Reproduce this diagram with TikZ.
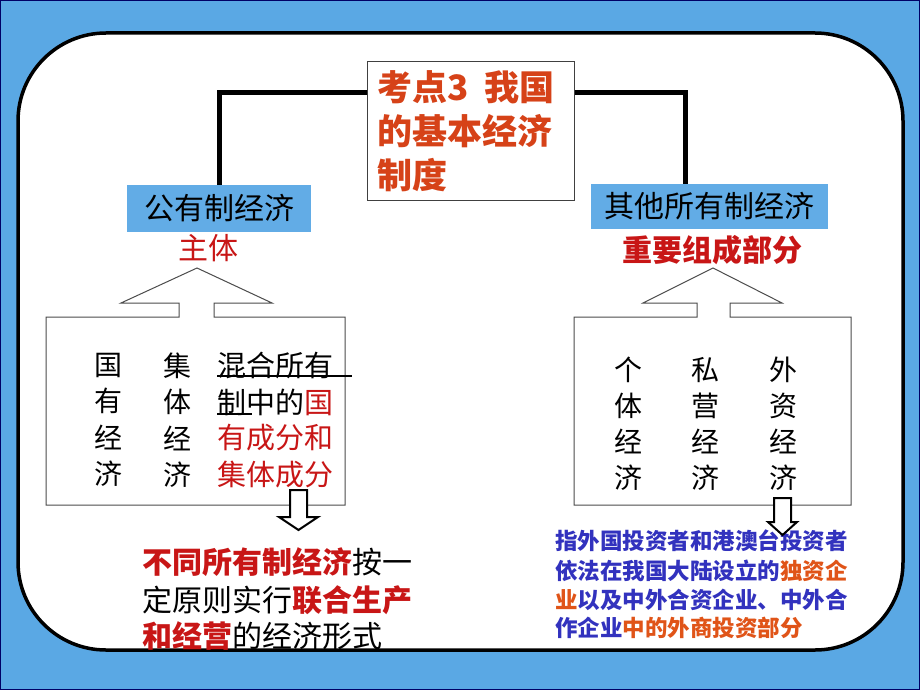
\documentclass[tikz,border=0pt]{standalone}
\usepackage{fontspec}
\setmainfont{Noto Sans CJK SC}
\usepackage{xcolor}
\usetikzlibrary{positioning}
\definecolor{bgblue}{RGB}{90,168,228}
\definecolor{boxblue}{RGB}{98,172,230}
\definecolor{titlered}{RGB}{214,66,24}
\definecolor{mainred}{RGB}{200,22,22}
\definecolor{txtblue}{RGB}{50,50,190}
\definecolor{txtorange}{RGB}{224,84,24}
\tikzset{
  panel/.style={draw=black, line width=3.5pt, fill=white, rounded corners=88pt},
  conn/.style={draw=black, line width=5pt},
  headbox/.style={draw=black!75, fill=white, line width=1pt, minimum width=207pt, minimum height=139pt, text width=187pt, inner xsep=10pt, align=left, text=titlered, font=\bfseries\fontsize{35}{44}\selectfont},
  sortbox/.style={fill=boxblue, text=black, inner sep=0pt, font=\fontsize{30}{30}\selectfont},
  role/.style={text=mainred, inner sep=0pt, font=\fontsize{30}{30}\selectfont},
  frame/.style={draw=black!70, line width=1pt, fill=white},
  hollow/.style={draw=black, line width=2pt, fill=white},
  col/.style={align=center, inner sep=0pt, font=\fontsize{28}{36.5}\selectfont},
  line/.style={anchor=west, inner sep=0pt, font=\fontsize{29}{29}\selectfont},
  note/.style={anchor=west, inner sep=0pt, font=\fontsize{30}{30}\selectfont},
  fnote/.style={anchor=west, inner sep=0pt, text=txtblue, font=\bfseries\fontsize{22.5}{22.5}\selectfont},
  uline/.style={draw=black, line width=1.5pt}
}
\begin{document}
\begin{tikzpicture}[x=1pt, y=-1pt]
  \fill[bgblue] (0,0) rectangle (920,690);
  \draw[blue!40!black] (0.5,0.5) rectangle (919.5,689.5);
  \draw[panel] (18,33) rectangle (903,650);

  \node[headbox, anchor=north west] (title) at (367,61) {考点3\hspace{16pt}我国\\的基本经济\\制度};

  \node[sortbox, minimum width=184pt, minimum height=47pt] (gong) at (219,208.5) {公有制经济};
  \node[sortbox, minimum width=237pt, minimum height=45pt] (qita) at (709.5,206.5) {其他所有制经济};
  \draw[conn] (title.west |- 0,93) -| (gong.north);
  \draw[conn] (title.east |- 0,93) -| ([xshift=-24pt]qita.north);

  \node[role] (zhuti) at (208,248) {主体};
  \node[role, font=\bfseries\fontsize{30}{30}\selectfont] (zhongyao) at (712,250) {重要组成部分};

  \draw[frame] (46,317) -- (179,317) -- (179,303) -- (121,303) -- (197,268) -- (272,303) -- (214,303) -- (214,317) -- (345,317) -- (345,505) -- (46,505) -- cycle;
  \draw[frame] (574,317) -- (697,317) -- (697,303) -- (643,303) -- (713,268) -- (782,303) -- (730,303) -- (730,317) -- (851,317) -- (851,505) -- (574,505) -- cycle;

  \node[col] (guoyou) at (108,420) {国\\有\\经\\济};
  \node[col] (jiti) at (177,420) {集\\体\\经\\济};
  \node[line] (mix1) at (217,365) {混合所有};
  \node[line] (mix2) at (217,402) {制中的\textcolor{mainred}{国}};
  \node[line, text=mainred] (mix3) at (217,438) {有成分和};
  \node[line, text=mainred] (mix4) at (217,475) {集体成分};
  \draw[uline] (mix1.west |- 0,376) -- (352,376);
  \draw[uline] (mix2.west |- 0,414) -- (252,414);

  \node[col, font=\fontsize{28}{36}\selectfont] (geti) at (628,424) {个\\体\\经\\济};
  \node[col, font=\fontsize{28}{36}\selectfont] (siying) at (705,424) {私\\营\\经\\济};
  \node[col, font=\fontsize{28}{36}\selectfont] (waizi) at (783,424) {外\\资\\经\\济};

  \draw[hollow] (290,490) -- (307,490) -- (307,517) -- (318,517) -- (298.5,530) -- (279,517) -- (290,517) -- cycle;

  \node[note] (def1) at (142,562) {\textcolor{mainred}{\bfseries 不同所有制经济}按一};
  \node[note] (def2) at (142,600) {定原则实行\textcolor{mainred}{\bfseries 联合生产}};
  \node[note] (def3) at (142,636) {\textcolor{mainred}{\bfseries 和经营}的经济形式};

  \node[fnote] (wz1) at (555,541) {指外国投资者和港澳台投资者};
  \node[fnote] (wz2) at (555,571) {依法在我国大陆设立的\textcolor{txtorange}{独资企}};
  \node[fnote] (wz3) at (555,600) {\textcolor{txtorange}{业}以及中外合资企业、中外合};
  \node[fnote] (wz4) at (555,628) {作企业\textcolor{txtorange}{中的外商投资部分}};

  \draw[hollow] (774,498) -- (791,498) -- (791,522) -- (797,522) -- (782.5,535) -- (768,522) -- (774,522) -- cycle;
\end{tikzpicture}
\end{document}
